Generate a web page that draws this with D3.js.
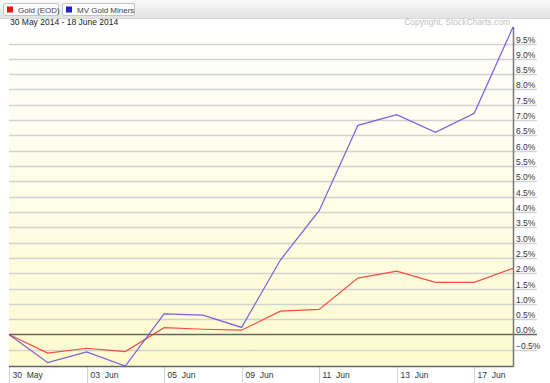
<!DOCTYPE html>
<html>
<head>
<meta charset="utf-8">
<script src="https://cdn.jsdelivr.net/npm/d3@7"></script>
<style>
  html, body { margin: 0; padding: 0; background: #fff; }
  svg { display: block; font-family: "Liberation Sans", Arial, sans-serif; }
</style>
</head>
<body>
<div id="chart"></div>
<script>
const dates = ['30 May', '02 Jun', '03 Jun', '04 Jun', '05 Jun', '06 Jun', '09 Jun',
  '10 Jun', '11 Jun', '12 Jun', '13 Jun', '16 Jun', '17 Jun', '18 Jun'];
const gold = [0, -0.61, -0.45, -0.56, 0.22, 0.17, 0.14, 0.76, 0.82, 1.84, 2.07, 1.70, 1.70, 2.16];
const miners = [0, -0.92, -0.57, -1.03, 0.67, 0.63, 0.23, 2.43, 4.04, 6.83, 7.18, 6.60, 7.22, 10.04];
const xTickLabels = ['30 May', '03 Jun', '05 Jun', '09 Jun', '11 Jun', '13 Jun', '17 Jun'];
const yTickValues = [-0.5, 0, 0.5, 1, 1.5, 2, 2.5, 3, 3.5, 4, 4.5, 5, 5.5, 6, 6.5, 7, 7.5, 8, 8.5, 9, 9.5];
const legendNames = ['Gold (EOD)', 'MV Gold Miners'];
const seriesColors = ['#f03c30', '#6650dc'];

const W = 550, H = 383;
const L = 9, R = 513, T = 27, B = 366;

const svg = d3.select('#chart').append('svg')
  .attr('width', W).attr('height', H)
  .attr('viewBox', `0 0 ${W} ${H}`);

const defs = svg.append('defs');
let bg = defs.append('linearGradient').attr('id', 'bg').attr('x1', 0).attr('y1', 0).attr('x2', 0).attr('y2', 1);
bg.append('stop').attr('offset', '0%').attr('stop-color', '#ffffff');
bg.append('stop').attr('offset', '100%').attr('stop-color', '#fdfbce');
let hd = defs.append('linearGradient').attr('id', 'hd').attr('x1', 0).attr('y1', 0).attr('x2', 0).attr('y2', 1);
hd.append('stop').attr('offset', '0%').attr('stop-color', '#fafafa');
hd.append('stop').attr('offset', '100%').attr('stop-color', '#e2e2e2');

let x = d3.scalePoint().domain(dates).range([L, R]);
let y = d3.scaleLinear()
  .domain([d3.min(miners.concat(gold)), d3.max(miners.concat(gold))])
  .range([B, T]);

// plot background
svg.append('rect').attr('x', L).attr('y', T).attr('width', R - L).attr('height', B - T)
  .attr('fill', 'url(#bg)');

// grid lines, running under the right axis labels
svg.append('g').selectAll('line').data(yTickValues).enter().append('line')
  .attr('x1', L).attr('x2', 537)
  .attr('y1', d => Math.round(y(d)) + 0.5).attr('y2', d => Math.round(y(d)) + 0.5)
  .attr('stroke', d => d === 0 ? '#666' : '#d2d2d2')
  .attr('stroke-width', d => d === 0 ? 1.5 : 1.5);

// right axis labels sit just above their grid line
svg.append('g').selectAll('text').data(yTickValues).enter().append('text')
  .attr('x', R + 3).attr('y', d => Math.round(y(d)) - 1.5)
  .attr('font-size', 8.5).attr('fill', '#333')
  .text(d => d3.format('.1f')(d) + '%');

// x ticks below the plot
let xt = svg.append('g').selectAll('g').data(xTickLabels).enter().append('g')
  .attr('transform', d => `translate(${Math.round(x(d)) + 0.5},0)`);
xt.append('line').attr('y1', B).attr('y2', H).attr('stroke', '#d4d4d4');
xt.append('text').attr('x', 3).attr('y', 378)
  .attr('font-size', 8.5).attr('fill', '#333')
  .attr('xml:space', 'preserve')
  .text(d => d.replace(' ', '  '));

// frame: bottom and right axis
svg.append('line').attr('x1', L).attr('x2', R + 0.5).attr('y1', B + 0.5).attr('y2', B + 0.5)
  .attr('stroke', '#666').attr('stroke-width', 1.5);
svg.append('line').attr('x1', R + 0.5).attr('x2', R + 0.5).attr('y1', T).attr('y2', B + 1)
  .attr('stroke', '#777').attr('stroke-width', 1.5);

// series
let line = d3.line().x((d, i) => x(dates[i])).y(d => y(d));
[gold, miners].forEach((s, i) => {
  svg.append('path').datum(s)
    .attr('d', line)
    .attr('fill', 'none')
    .attr('stroke', seriesColors[i])
    .attr('stroke-width', 1.2)
    .attr('stroke-opacity', 0.9);
});

// header bar with legend buttons
svg.append('rect').attr('x', 0).attr('y', 0).attr('width', W).attr('height', 18).attr('fill', 'url(#hd)');
svg.append('line').attr('x1', 0).attr('x2', W).attr('y1', 18.5).attr('y2', 18.5).attr('stroke', '#d8d8d8');

let bx = [3, 62], bw = [55, 72];
legendNames.forEach((name, i) => {
  let g = svg.append('g').attr('transform', `translate(${bx[i]},3)`);
  g.append('rect').attr('x', 0.5).attr('y', 0.5).attr('width', bw[i]).attr('height', 12).attr('rx', 1.5)
    .attr('fill', '#fbfbfb').attr('stroke', '#c4c4c4');
  g.append('rect').attr('x', 4).attr('y', 3.5).attr('width', 6).attr('height', 6).attr('fill', i === 0 ? '#ee1111' : '#2222cc');
  g.append('text').attr('x', 15).attr('y', 9.8).attr('font-size', 8).attr('fill', '#444').text(name);
});

svg.append('text').attr('x', 10).attr('y', 25).attr('font-size', 8.5).attr('fill', '#222')
  .text('30 May 2014 - 18 June 2014');
svg.append('text').attr('x', 510).attr('y', 25).attr('font-size', 8.5).attr('fill', '#c0c0c0')
  .attr('text-anchor', 'end').text('Copyright, StockCharts.com');
</script>
</body>
</html>
